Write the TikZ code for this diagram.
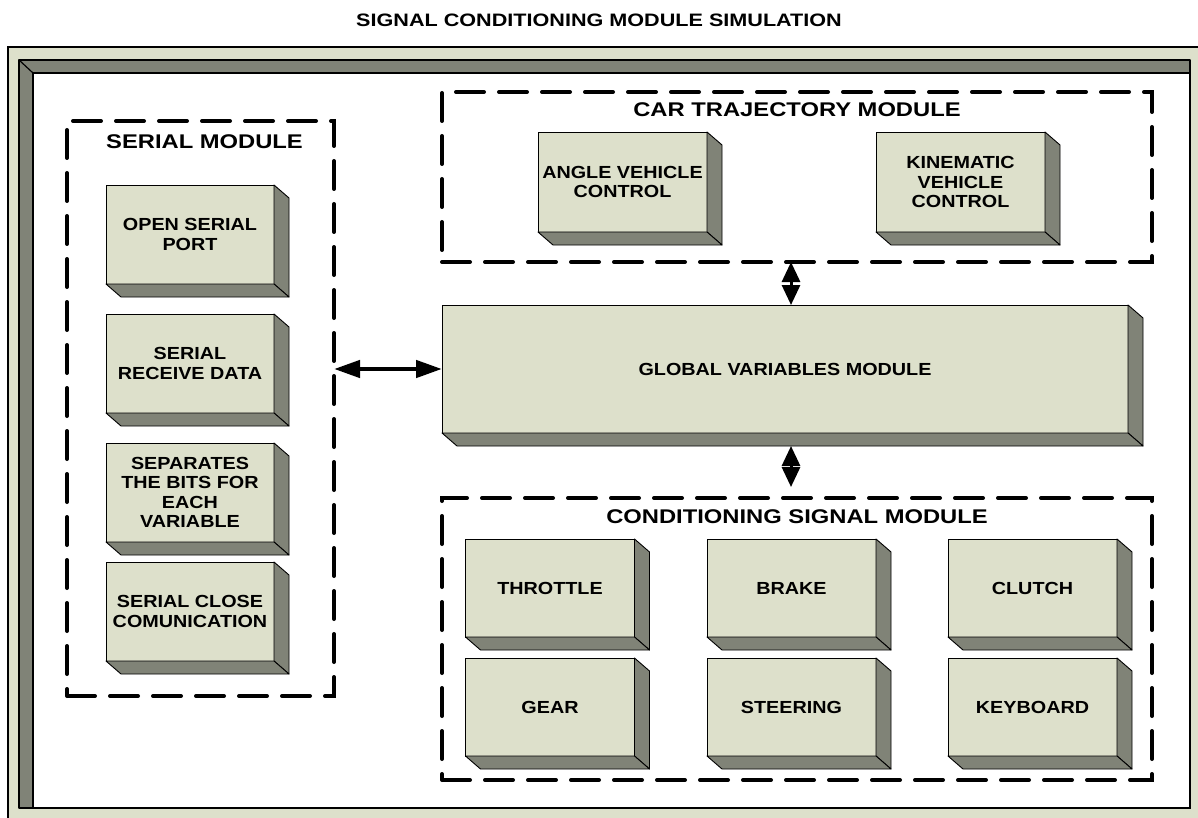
\documentclass[tikz,border=0pt]{standalone}
\usepackage{fontspec}
\setmainfont{Liberation Sans}
\newfontfamily\boxfont{Liberation Sans}[FakeStretch=1.13]
\newfontfamily\headfont{Liberation Sans}[FakeStretch=1.2]
\usetikzlibrary{arrows.meta,positioning,calc}

\definecolor{facefill}{RGB}{221,224,203}
\definecolor{sidefill}{RGB}{128,131,119}

% right and bottom faces of a 3D block
\newcommand{\extrude}[1]{%
  \filldraw[side] (#1.north east) -- ++(15,13) -- ($(#1.south east)+(15,13)$) -- (#1.south east) -- cycle;
  \filldraw[side] (#1.south west) -- ++(15,13) -- ($(#1.south east)+(15,13)$) -- (#1.south east) -- cycle;
}

\begin{document}
\begin{tikzpicture}[
  x=1pt,y=-1pt,
  block/.style={draw=black,fill=facefill,line width=0.9pt,minimum width=169pt,minimum height=99pt,
    inner sep=0pt,outer sep=0pt,align=center,font=\boxfont\bfseries\fontsize{17.5}{19.5}\selectfont},
  side/.style={draw=black,fill=sidefill,line width=0.9pt,line join=round},
  module/.style={draw=black,line width=4pt,dash pattern=on 28pt off 15pt,line cap=round,inner sep=0pt,outer sep=0pt},
  modtitle/.style={font=\headfont\bfseries\fontsize{19.8}{22}\selectfont,inner sep=0pt},
  title/.style={font=\headfont\bfseries\fontsize{18}{20}\selectfont,inner sep=0pt},
  dbl/.style={{Triangle[length=26pt,width=17pt]}-{Triangle[length=26pt,width=17pt]},line width=4.5pt},
  vdbl/.style={{Triangle[length=20pt,width=18pt]}-{Triangle[length=20pt,width=18pt]},line width=3pt}
]
\useasboundingbox (0,0) rectangle (1198,818);
\clip (0,0) rectangle (1198,818);

% -------------------------
% frame
% -------------------------
\filldraw[fill=facefill,draw=black,line width=1.2pt] (8,47) rectangle (1210,830);
\filldraw[side,line width=1.2pt] (19,60) -- (1190,60) -- (1190,73) -- (33,73) -- (33,808) -- (19,808) -- cycle;
\filldraw[fill=white,draw=black,line width=1.2pt] (33,73) rectangle (1190,808);
\draw[line width=1.2pt] (19,60) -- (33,73);

\node[title] (maintitle) at (599,20) {SIGNAL CONDITIONING MODULE SIMULATION};

% -------------------------
% dashed modules
% -------------------------
\node[module,minimum width=267pt,minimum height=575pt] (serial) at (200.5,408.5) {};
\node[module,minimum width=710pt,minimum height=170pt] (car) at (797,177) {};
\node[module,minimum width=710pt,minimum height=282pt] (cond) at (797,639) {};

\node[modtitle] (serialtitle) at ($(serial.north)+(4,21)$) {SERIAL MODULE};
\node[modtitle] (cartitle) at ($(car.north)+(0,18)$) {CAR TRAJECTORY MODULE};
\node[modtitle] (condtitle) at ($(cond.north)+(0,19)$) {CONDITIONING SIGNAL MODULE};

% -------------------------
% serial module blocks
% -------------------------
\node[block,minimum width=168pt] (oport) at (190,234.5) {OPEN SERIAL\\PORT};
\node[block,minimum width=168pt] (srecv) at (190,363.5) {SERIAL\\RECEIVE DATA};
\node[block,minimum width=168pt] (sbits) at (190,492.5) {SEPARATES\\THE BITS FOR\\EACH\\VARIABLE};
\node[block,minimum width=168pt] (sclose) at (190,611.5) {SERIAL CLOSE\\COMUNICATION};

% -------------------------
% car trajectory blocks
% -------------------------
\node[block,minimum height=100pt] (angle) at (622.5,182) {ANGLE VEHICLE\\CONTROL};
\node[block,minimum height=100pt] (kine) at (960.5,182) {KINEMATIC\\VEHICLE\\CONTROL};

% -------------------------
% global variables
% -------------------------
\node[block,minimum width=686pt,minimum height=128pt] (glob) at (785,369) {GLOBAL VARIABLES MODULE};

% -------------------------
% conditioning blocks
% -------------------------
\node[block,minimum height=98pt] (throttle) at (550,588) {THROTTLE};
\node[block,minimum height=98pt] (brake) at (791.5,588) {BRAKE};
\node[block,minimum height=98pt] (clutch) at (1032.5,588) {CLUTCH};
\node[block,minimum height=98pt] (gear) at (550,707) {GEAR};
\node[block,minimum height=98pt] (steer) at (791.5,707) {STEERING};
\node[block,minimum height=98pt] (keyb) at (1032.5,707) {KEYBOARD};

\foreach \b in {oport,srecv,sbits,sclose,angle,kine,glob,throttle,brake,clutch,gear,steer,keyb}
  {\extrude{\b}}

% -------------------------
% links
% -------------------------
\draw[dbl] (serial.east |- glob.west) -- (glob.west);
\draw[vdbl] ([xshift=-6pt]car.south) -- ([xshift=-6pt]car.south |- glob.north);
\draw[vdbl] ($(cond.north |- glob.south)+(-6,13)$) -- ($(cond.north)+(-6,-11)$);

\end{tikzpicture}
\end{document}
